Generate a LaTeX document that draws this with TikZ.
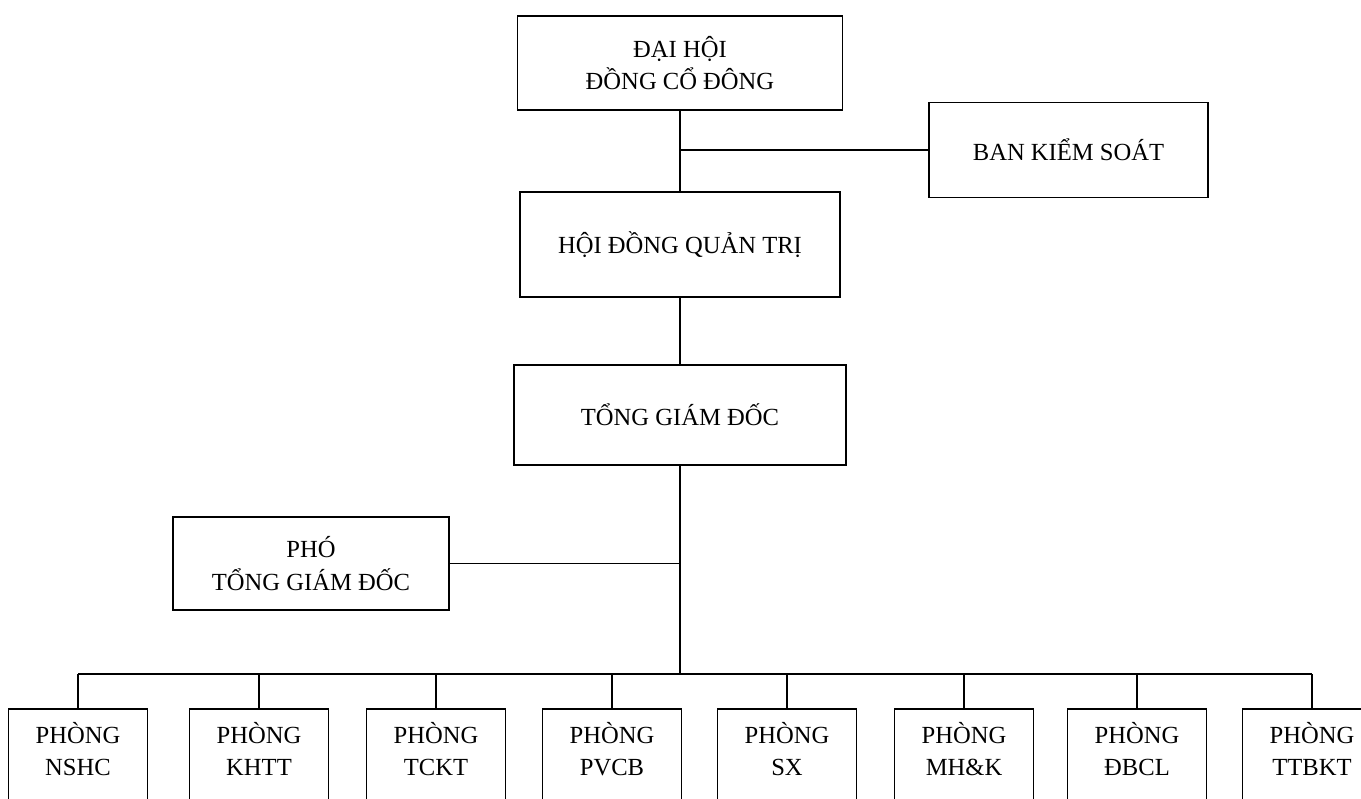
\documentclass[tikz,border=0pt]{standalone}
\usepackage{fontspec}
\setmainfont{Liberation Serif}
\usetikzlibrary{positioning}

\begin{document}
\begin{tikzpicture}[x=0.02cm,y=-0.02cm,line width=1pt,node distance=0.26cm]
  \tikzstyle{box}=[draw,line width=1pt,align=center,inner sep=0pt,font=\fontsize{14}{18.5}\selectfont]
  \tikzstyle{phong}=[box,anchor=north,minimum width=2.78cm,minimum height=3cm]
  \tikzstyle{lbl}=[align=center,inner sep=0pt,font=\fontsize{14}{18.5}\selectfont]
  \useasboundingbox (0,0) rectangle (1361,798);
  \clip (0,0) rectangle (1361,798);
  \fill[white] (0,0) rectangle (1361,798);
  % upper levels
  \node[box,minimum width=6.5cm,minimum height=1.88cm] (dhcd) at (680,63) {ĐẠI HỘI\\ĐỒNG CỔ ĐÔNG};
  \node[box,minimum width=5.58cm,minimum height=1.9cm] (bks) at (1068.5,150) {BAN KIỂM SOÁT};
  \node[box,minimum width=6.4cm,minimum height=2.1cm] (hdqt) at (680,244.5) {HỘI ĐỒNG QUẢN TRỊ};
  \node[box,minimum width=6.64cm,minimum height=2cm] (tgd) at (680,415) {TỔNG GIÁM ĐỐC};
  \node[box,minimum width=5.52cm,minimum height=1.86cm] (pho) at (311,563.5) {PHÓ\\TỔNG GIÁM ĐỐC};
  \coordinate (j1) at (680,150);
  \coordinate (bus) at (680,674);
  % phong ban
  \node[phong] (nshc) at (78,708) {};
  \node[phong] (khtt) at (259,708) {};
  \node[phong] (tckt) at (436,708) {};
  \node[phong] (pvcb) at (612,708) {};
  \node[phong] (sx) at (787,708) {};
  \node[phong] (mhk) at (964,708) {};
  \node[phong] (dbcl) at (1137,708) {};
  \node[phong] (ttbkt) at (1312,708) {};
  \node[lbl,below=of nshc.north] (nshc-t) {PHÒNG\\NSHC};
  \node[lbl,below=of khtt.north] (khtt-t) {PHÒNG\\KHTT};
  \node[lbl,below=of tckt.north] (tckt-t) {PHÒNG\\TCKT};
  \node[lbl,below=of pvcb.north] (pvcb-t) {PHÒNG\\PVCB};
  \node[lbl,below=of sx.north] (sx-t) {PHÒNG\\SX};
  \node[lbl,below=of mhk.north] (mhk-t) {PHÒNG\\MH\&K};
  \node[lbl,below=of dbcl.north] (dbcl-t) {PHÒNG\\ĐBCL};
  \node[lbl,below=of ttbkt.north] (ttbkt-t) {PHÒNG\\TTBKT};
  % connectors
  \draw (dhcd) -- (hdqt);
  \draw (j1) -- (bks);
  \draw (hdqt) -- (tgd);
  \draw (tgd) -- (bus);
  \draw (pho) -- (pho -| tgd.south);
  \draw (nshc.north |- bus) -- (ttbkt.north |- bus);
  \draw (nshc) -- (nshc |- bus);
  \draw (khtt) -- (khtt |- bus);
  \draw (tckt) -- (tckt |- bus);
  \draw (pvcb) -- (pvcb |- bus);
  \draw (sx) -- (sx |- bus);
  \draw (mhk) -- (mhk |- bus);
  \draw (dbcl) -- (dbcl |- bus);
  \draw (ttbkt) -- (ttbkt |- bus);
\end{tikzpicture}
\end{document}
